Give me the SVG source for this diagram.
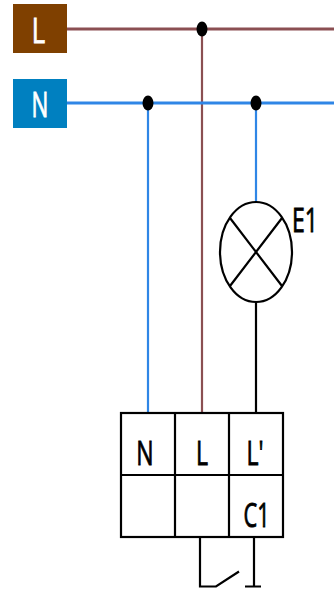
<svg xmlns="http://www.w3.org/2000/svg" width="334" height="589" viewBox="0 0 334 589">
<style>
.t{font-family:"Open Sans","Noto Sans",sans-serif;font-size:32px;text-anchor:middle;stroke-width:.8px}
.w{fill:#fff;stroke:#fff}.k{fill:#000;stroke:#000}
.l{fill:none;stroke:#000;stroke-width:2.2}
.b{stroke:#2f86e6;stroke-width:3;fill:none}
.r{stroke:#8b4f52;stroke-width:3;fill:none}
.v{stroke-width:2.2}
</style>
<g id="connectors">
<path class="r" d="M67 29H334"/>
<path class="r v" d="M202 29V413"/>
<path class="b" d="M67 103H334"/>
<path class="b v" d="M148 103V413M256 103V203"/>
<path class="l" d="M256 302V413"/>
<path class="l" d="M200 537V586.500H216L239 571.500M254 537V586.500M245 586.500H261"/>
<ellipse cx="202" cy="29" rx="5.5" ry="7.5"/>
<ellipse cx="148" cy="103" rx="5.5" ry="7.5"/>
<ellipse cx="256" cy="103" rx="5.5" ry="7.5"/>
</g>
<g id="source-L">
<rect x="13" y="4" width="54" height="49" fill="#7f4000"/>
<text class="t w" transform="translate(38.500 43) scale(.8 1.1)">L</text>
</g>
<g id="source-N">
<rect x="13" y="79" width="54" height="49" fill="#0080c0"/>
<text class="t w" transform="translate(40 117) scale(.7 1.1)">N</text>
</g>
<g id="lamp-E1">
<ellipse class="l" cx="256" cy="252" rx="36" ry="50" fill="#fff"/>
<path class="l" d="M230 218L282 286M282 218L230 286"/>
<text class="t k" transform="translate(305 232) scale(.72 1.02)">E1</text>
</g>
<g id="device">
<rect class="l" x="121" y="413" width="162" height="124"/>
<path class="l" d="M175 413V537M229 413V537M121 475H283"/>
<text class="t k" transform="translate(145 464.500) scale(.72 1.02)">N</text>
<text class="t k" transform="translate(202 464.500) scale(.72 1.02)">L</text>
<text class="t k" transform="translate(255 464.500) scale(.72 1.02)">L'</text>
<text class="t k" transform="translate(256.500 527) scale(.68 1.02)">C1</text>
</g>
</svg>
